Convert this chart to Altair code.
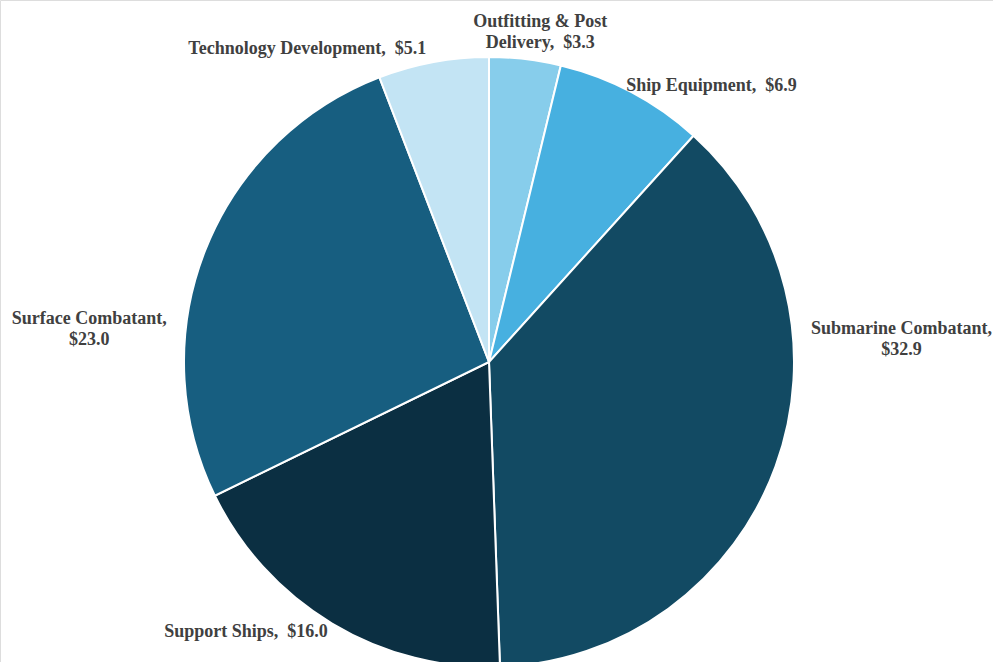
import altair as alt
import pandas as pd

# Shipbuilding spending by category ($B), clockwise from 12 o'clock
categories = [
    "Outfitting & Post Delivery",
    "Ship Equipment",
    "Submarine Combatant",
    "Support Ships",
    "Surface Combatant",
    "Technology Development",
]
values = [3.3, 6.9, 32.9, 16.0, 23.0, 5.1]
# a non-breaking space keeps the wide gap before the dollar amount
GAP = " \u00a0"
labels = [
    "Outfitting & Post\nDelivery," + GAP + "$3.3",
    "Ship Equipment," + GAP + "$6.9",
    "Submarine Combatant,\n$32.9",
    "Support Ships," + GAP + "$16.0",
    "Surface Combatant,\n$23.0",
    "Technology Development," + GAP + "$5.1",
]
colors = ["#87CDEB", "#47B0E0", "#124A63", "#0B2F42", "#175E80", "#C3E4F4"]

df = pd.DataFrame({
    "category": categories,
    "value": values,
    "label": labels,
    "idx": list(range(len(categories))),
})

CX, CY, R = 489, 362, 305
FONT = "Liberation Serif"

base = alt.Chart(df).encode(
    theta=alt.Theta("value:Q", stack=True),
    order=alt.Order("idx:Q"),
    x=alt.value(CX),
    y=alt.value(CY),
)

pie = base.mark_arc(outerRadius=R, stroke="white", strokeWidth=2).encode(
    color=alt.Color(
        "category:N",
        scale=alt.Scale(domain=categories, range=colors),
        legend=None,
    )
)

# label nudges from each slice's outer-edge midpoint
offsets = {
    "Outfitting & Post Delivery": (15, -37),
    "Ship Equipment": (80, -6),
    "Submarine Combatant": (126, -137),
    "Support Ships": (-86, 8),
    "Surface Combatant": (-116, 69),
    "Technology Development": (-126, -13),
}

layers = [pie]
for cat, (ddx, ddy) in offsets.items():
    layers.append(
        base.mark_text(
            radius=R,
            dx=ddx,
            dy=ddy,
            font=FONT,
            fontSize=18,
            fontWeight="bold",
            color="#404040",
            align="center",
            baseline="middle",
            lineBreak="\n",
            lineHeight=21,
        ).encode(
            text=alt.condition(
                alt.datum.category == cat, alt.Text("label:N"), alt.value("")
            )
        )
    )

chart = (
    alt.layer(*layers)
    .properties(width=993, height=662, autosize="none", padding=0)
    .configure_view(stroke=None)
    .configure(background="white")
)

chart.save("out.html", embed_options={"renderer": "svg", "actions": False})
